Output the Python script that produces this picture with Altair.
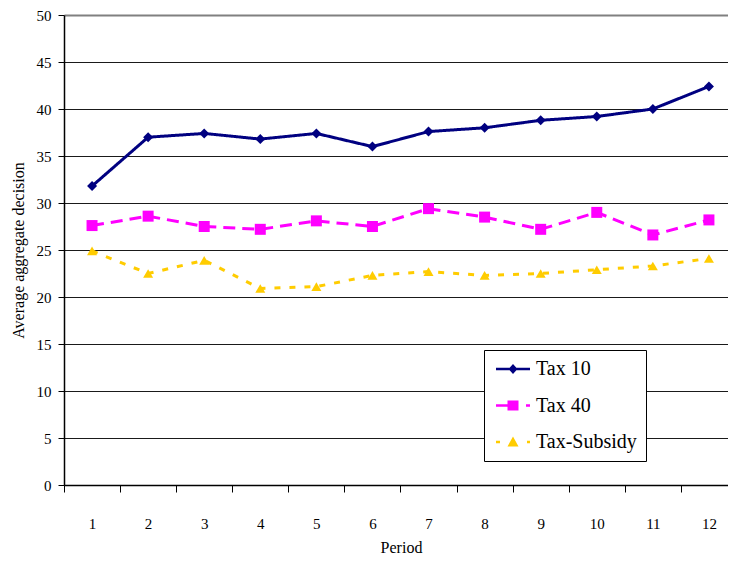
import altair as alt
import pandas as pd

# Average aggregate decision per period for each treatment
periods = list(range(1, 13))
series = ["Tax 10", "Tax 40", "Tax-Subsidy"]
tax10 = [31.8, 37.0, 37.4, 36.8, 37.4, 36.0, 37.6, 38.0, 38.8, 39.2, 40.0, 42.4]
tax40 = [27.6, 28.6, 27.5, 27.2, 28.1, 27.5, 29.4, 28.5, 27.2, 29.0, 26.6, 28.2]
tax_subsidy = [24.9, 22.5, 23.9, 20.9, 21.1, 22.3, 22.7, 22.3, 22.5, 22.9, 23.3, 24.1]
y_ticks = list(range(0, 51, 5))

colors = ["#000080", "#FF00FF", "#FFCC00"]
dashes = [[1, 0], [12, 7], [6, 9]]
marker_shapes = ["diamond", "square", "triangle-up"]
marker_sizes = [100, 121, 100]

# legend keys: line segment(s) with the series marker in the middle
legend_paths = [
    "M-0.7,-0.13H2.7V0.13H-0.7Z M1,-0.5L1.45,0L1,0.5L0.55,0Z",
    "M-0.7,-0.13H0.6V0.13H-0.7Z M0.45,-0.5H1.55V0.5H0.45Z M2.3,-0.13H2.7V0.13H2.3Z",
    "M-0.7,-0.13H-0.3V0.13H-0.7Z M1,-0.55L1.55,0.45H0.45Z M2.4,-0.13H2.7V0.13H2.4Z",
]

rows = []
for name, vals in zip(series, [tax10, tax40, tax_subsidy]):
    for p, v in zip(periods, vals):
        rows.append({"period": p, "value": v, "series": name})
df = pd.DataFrame(rows)

FONT = "Liberation Serif"

# tick marks sit between periods, labels at the periods
x_axis_values = [p - 0.5 for p in periods] + periods

x_enc = alt.X(
    "period:Q",
    scale=alt.Scale(domain=[0.5, 12.34], nice=False, zero=False),
    axis=alt.Axis(
        values=x_axis_values,
        labelExpr="datum.value % 1 == 0 ? format(datum.value, 'd') : ''",
        tickOpacity={"condition": {"test": "datum.value % 1 == 0", "value": 0}, "value": 1},
        labelOverlap=False,
        labelFlush=False,
        grid=False,
        tickSize=7,
        tickColor="black",
        domainColor="black",
        domainWidth=1.5,
        labelPadding=24,
        labelFontSize=15,
        labelColor="black",
        title="Period",
        titleFontSize=16,
        titleFontWeight="normal",
        titleColor="black",
        titlePadding=8,
        titleX=337,
    ),
)
y_enc = alt.Y(
    "value:Q",
    scale=alt.Scale(domain=[0, 50], nice=False),
    axis=alt.Axis(
        values=y_ticks,
        grid=True,
        gridColor={"condition": {"test": "datum.value == 50", "value": "#808080"}, "value": "#1a1a1a"},
        gridWidth={"condition": {"test": "datum.value == 50", "value": 2}, "value": 1},
        tickSize=6,
        tickColor="black",
        domainColor="black",
        domainWidth=1.5,
        labelPadding=7,
        labelFontSize=15,
        labelColor="black",
        title="Average aggregate decision",
        titleFontSize=16,
        titleFontWeight="normal",
        titleColor="black",
        titlePadding=10,
    ),
)
color_scale = alt.Scale(domain=series, range=colors)

legend = alt.Legend(
    title=None,
    orient="none",
    legendX=420,
    legendY=335,
    strokeColor="black",
    fillColor="white",
    padding=9,
    symbolSize=400,
    symbolStrokeWidth=0,
    symbolOpacity=1,
    labelFontSize=20,
    labelColor="black",
    labelOffset=23,
    labelLimit=300,
    rowPadding=16.5,
)

base = alt.Chart(df)

# legend-only layer (no rows survive the filter); it comes first so its
# legend settings take precedence when the layers' legends are merged
legend_layer = (
    base.transform_filter("false")
    .mark_point(filled=True, opacity=1, strokeWidth=0)
    .encode(
        color=alt.Color("series:N", scale=color_scale, legend=legend),
        shape=alt.Shape(
            "series:N", scale=alt.Scale(domain=series, range=legend_paths), legend=legend
        ),
    )
)

lines = base.mark_line(strokeWidth=3).encode(
    x=x_enc,
    y=y_enc,
    color=alt.Color("series:N", scale=color_scale),
    strokeDash=alt.StrokeDash(
        "series:N", scale=alt.Scale(domain=series, range=dashes), legend=None
    ),
)

markers = []
for name, shape, size in zip(series, marker_shapes, marker_sizes):
    markers.append(
        base.transform_filter(alt.datum.series == name)
        .mark_point(shape=shape, size=size, filled=True, opacity=1, strokeWidth=0)
        .encode(
            x=x_enc,
            y=y_enc,
            color=alt.Color("series:N", scale=color_scale),
        )
    )

chart = (
    alt.layer(legend_layer, lines, *markers)
    .properties(
        width=664,
        height=470,
        padding={"left": 10, "top": 8, "right": 0, "bottom": 2},
        background="white",
    )
    .configure(font=FONT)
    .configure_axis(labelFont=FONT, titleFont=FONT)
    .configure_legend(labelFont=FONT)
    .configure_view(stroke=None)
)

chart.save("out.html", embed_options={"renderer": "svg", "actions": False})
